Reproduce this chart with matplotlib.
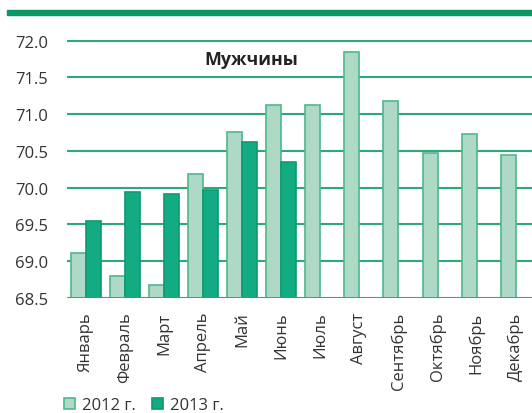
import numpy as np
import matplotlib
matplotlib.use("Agg")
import matplotlib.pyplot as plt
from matplotlib.patches import Rectangle

plt.rcParams['font.family'] = ['Open Sans', 'DejaVu Sans']

# данные (ожидаемая продолжительность жизни, мужчины)
months = ["Январь", "Февраль", "Март", "Апрель", "Май", "Июнь", "Июль",
          "Август", "Сентябрь", "Октябрь", "Ноябрь", "Декабрь"]
values_2012 = [69.11, 68.79, 68.67, 70.18, 70.76, 71.12, 71.12,
               71.84, 71.18, 70.47, 70.73, 70.45]
values_2013 = [69.55, 69.94, 69.91, 69.96, 70.62, 70.35]
yticks = [68.5, 69.0, 69.5, 70.0, 70.5, 71.0, 71.5, 72.0]
series_names = ["2012 г.", "2013 г."]

light = "#afd9c7"
light_edge = "#4db88c"
dark = "#13ab82"
dark_edge = "#0d9a6e"
grid_col = "#2ea77b"

W, H = 532, 414
fig = plt.figure(figsize=(W / 100, H / 100), dpi=100)

# положение осей в пикселях
left_px, right_px = 66.5, 535.2
bottom_px, top_px = 298.7, 39.5
ax = fig.add_axes([left_px / W, 1 - bottom_px / H,
                   (right_px - left_px) / W, (bottom_px - top_px) / H])

x = np.arange(len(months))
bw = 0.385
b1 = ax.bar(x[:len(values_2012)] - bw / 2, np.array(values_2012) - 68.5, bw, bottom=68.5,
            color=light, edgecolor=light_edge, linewidth=1.2, zorder=3, label=series_names[0])
b2 = ax.bar(x[:len(values_2013)] + bw / 2, np.array(values_2013) - 68.5, bw, bottom=68.5,
            color=dark, edgecolor=dark_edge, linewidth=1.2, zorder=3, label=series_names[1])

ax.set_xlim(-0.5, len(months) - 0.5)
ax.set_ylim(68.5, 72.03)
ax.set_yticks(yticks)
ax.set_yticklabels(["%.1f" % v for v in yticks])
ax.set_xticks(x)
ax.set_xticklabels(months, rotation=90, va="top", ha="center")
ax.tick_params(axis="both", length=0, labelsize=12, colors="#333333")
ax.tick_params(axis="x", pad=10)
ax.tick_params(axis="y", pad=13)
ax.yaxis.grid(True, color=grid_col, linewidth=1.5, zorder=0)
ax.set_axisbelow(True)
for s in ax.spines.values():
    s.set_visible(False)
ax.axhline(68.5, color=grid_col, linewidth=2, zorder=4)

ax.text((251 - left_px) / (right_px - left_px), (bottom_px - 60) / (bottom_px - top_px),
        "Мужчины", transform=ax.transAxes, ha="center", va="center",
        fontsize=12.8, fontweight="bold", color="#222222")

# зелёная полоса сверху
fig.patches.append(Rectangle((7 / W, 1 - 15.7 / H), 1, 5 / H, transform=fig.transFigure,
                             color="#0a9764", zorder=1))

fig.legend(handles=[b1, b2], loc="center left", bbox_to_anchor=(64 / W, 1 - 406 / H),
           ncol=2, frameon=False, fontsize=12, handlelength=0.65, handleheight=0.65,
           handletextpad=0.4, columnspacing=1.0, borderpad=0, borderaxespad=0,
           labelcolor="#333333")

fig.savefig("out.png", dpi=100)
